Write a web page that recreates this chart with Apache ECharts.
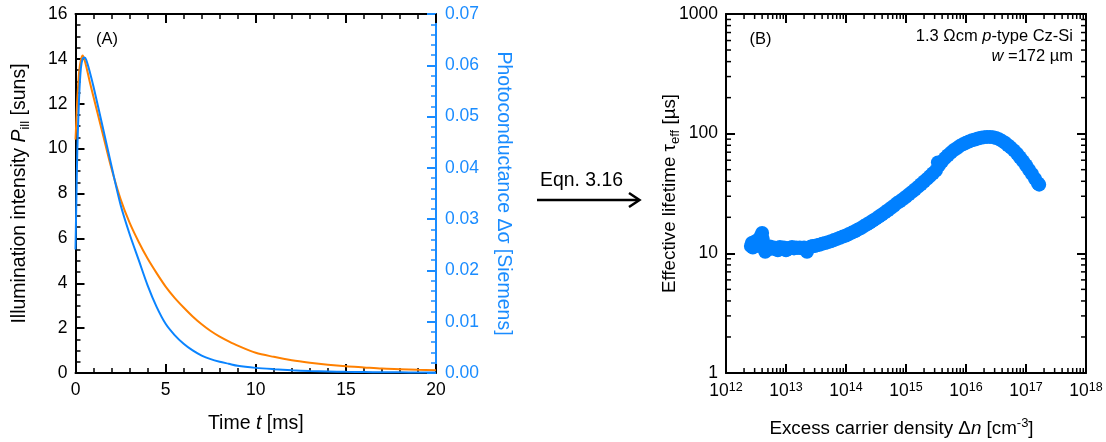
<!DOCTYPE html>
<html><head><meta charset="utf-8">
<script src="https://cdn.jsdelivr.net/npm/echarts@6/dist/echarts.min.js"></script>
<style>html,body{margin:0;padding:0;background:#fff}#c{width:1106px;height:442px}</style>
</head><body><div id="c"></div>
<script>
// ---- Panel A data ----
const timeMs = [0, 0.05, 0.1, 0.2, 0.3, 0.4, 0.5, 0.6, 0.8, 1.0, 1.5, 2.0, 2.5, 3.0, 3.5, 4.0, 4.5, 5.0, 5.5, 6.0, 6.5, 7.0, 7.5, 8.0, 8.5, 9.0, 10, 11, 12, 13, 14, 15, 16, 17, 18, 19, 20];
const illuminationSuns = [10.4, 11.3, 12.2, 13.4, 13.95, 14.15, 13.95, 13.65, 12.95, 12.3, 10.7, 9.1, 7.75, 6.7, 5.85, 5.1, 4.45, 3.85, 3.35, 2.92, 2.52, 2.17, 1.87, 1.62, 1.41, 1.22, 0.9, 0.72, 0.57, 0.46, 0.37, 0.3, 0.25, 0.2, 0.17, 0.14, 0.12];
const photoconductanceS = [0.0241, 0.0341, 0.0433, 0.0538, 0.0595, 0.0613, 0.0615, 0.0610, 0.0586, 0.0558, 0.0481, 0.0403, 0.0328, 0.0271, 0.0221, 0.0171, 0.0129, 0.0096, 0.0074, 0.0057, 0.0044, 0.0034, 0.0027, 0.0022, 0.0018, 0.0014, 0.0010, 0.00074, 0.00053, 0.00039, 0.00031, 0.00022, 0.00018, 0.00015, 0.00013, 0.00011, 0.00009];

// ---- Panel B data ----
const carrierDensity = [2.6e12, 2.7e12, 2.8e12, 3.0e12, 3.2e12, 3.4e12, 3.6e12, 3.8e12, 4.0e12, 4.1e12, 4.3e12, 4.5e12, 4.8e12, 5.0e12, 5.4e12, 5.8e12, 6.3e12, 6.8e12, 7.3e12, 7.9e12, 8.5e12, 9.2e12,
  1.0e13, 1.08e13, 1.17e13, 1.26e13, 1.36e13, 1.47e13, 1.58e13, 1.7e13, 1.85e13, 2.0e13, 2.24e13, 2.4e13, 2.6e13, 2.82e13, 3.0e13, 3.3e13, 3.6e13, 4.0e13, 4.5e13, 5.0e13, 5.6e13, 6.3e13, 7.1e13, 7.9e13, 8.9e13,
  1.0e14, 1.12e14, 1.26e14, 1.41e14, 1.58e14, 1.78e14, 2.0e14, 2.24e14, 2.51e14, 2.82e14, 3.16e14, 3.55e14, 3.98e14, 4.47e14, 5.0e14, 5.6e14, 6.3e14, 7.1e14, 7.9e14, 8.9e14,
  1.0e15, 1.12e15, 1.26e15, 1.41e15, 1.58e15, 1.78e15, 2.0e15, 2.24e15, 2.51e15, 2.82e15, 3.16e15, 3.4e15, 3.55e15, 3.98e15, 4.47e15, 5.0e15, 5.6e15, 6.3e15, 7.1e15, 7.9e15, 8.9e15,
  1.0e16, 1.12e16, 1.26e16, 1.41e16, 1.58e16, 1.78e16, 2.0e16, 2.24e16, 2.51e16, 2.82e16, 3.16e16, 3.55e16, 3.98e16, 4.47e16, 5.0e16, 5.6e16, 6.3e16, 7.1e16, 7.9e16, 8.9e16,
  1.0e17, 1.12e17, 1.26e17, 1.41e17, 1.58e17, 1.66e17];
const lifetimeUs = [11.5, 12.2, 11.2, 12.5, 12.0, 13.0, 11.5, 14.0, 14.8, 13.2, 11.8, 10.3, 11.2, 10.8, 11.4, 10.9, 11.2, 11.0, 10.6, 11.3, 11.0, 11.2,
  10.6, 11.1, 11.0, 11.3, 11.0, 11.2, 11.1, 11.2, 11.0, 11.2, 10.3, 11.1, 11.4, 11.5, 11.5, 11.7, 11.8, 12.0, 12.2, 12.4, 12.6, 12.9, 13.2, 13.5, 13.8,
  14.1, 14.5, 14.9, 15.3, 15.8, 16.3, 16.9, 17.5, 18.1, 18.8, 19.5, 20.3, 21.1, 22.0, 22.9, 23.9, 25.0, 26.3, 27.2, 28.4,
  29.7, 31.1, 32.6, 34.2, 35.9, 37.8, 39.8, 41.9, 44.2, 46.7, 49.3, 57.5, 54.5, 58.5, 62.5, 66.0, 69.5, 73.0, 76.0, 79.0, 81.5,
  84.0, 86.0, 88.0, 89.5, 91.0, 92.5, 93.5, 94.0, 94.0, 93.5, 92.0, 90.0, 87.0, 84.0, 80.0, 76.5, 72.5, 68.0, 63.5, 59.0,
  54.5, 50.0, 46.0, 42.0, 38.5, 37.5];

// tick helpers (log minor tick mantissas)
const logMinorMantissas = [2, 3, 4, 5, 6, 7, 8, 9];
const xDecades = [12, 13, 14, 15, 16, 17];
const yDecades = [0, 1, 2];

const FONT = '"Liberation Sans", Arial, sans-serif';
const BLUE_AX = '#1a8cff';
const BLUE = '#0a84ff';
const ORANGE = '#ff8000';
const TICK_FS = 17.5;
const NAME_A = 19.5;
const NAME_B = 18.8;

const xMinor = [];
xDecades.forEach(e => logMinorMantissas.forEach(m => xMinor.push([m * Math.pow(10, e), 1])));
const yMinor = [];
yDecades.forEach(e => logMinorMantissas.forEach(m => yMinor.push([1e12, m * Math.pow(10, e)])));

const chart = echarts.init(document.getElementById('c'), null, {renderer: 'canvas'});

const baseTick = {show: true, inside: true, length: 9, lineStyle: {color: '#000', width: 2}};
const baseMinor = {show: true, length: 5, lineStyle: {color: '#000', width: 1.5}};
const blackLine = {show: true, onZero: false, lineStyle: {color: '#000', width: 2}};
const lbl = {color: '#000', fontSize: TICK_FS, fontFamily: FONT, margin: 8};
function richFor(fs) {
  const lh = Math.round(fs * 1.25);
  return {
    n: {fontSize: fs, fontFamily: FONT, lineHeight: lh},
    i: {fontSize: fs, fontFamily: FONT, fontStyle: 'italic', lineHeight: lh},
    sub: {fontSize: Math.round(fs * 0.68), fontFamily: FONT, verticalAlign: 'bottom'},
    sup: {fontSize: Math.round(fs * 0.68), fontFamily: FONT, verticalAlign: 'top'}
  };
}

const option = {
  animation: false,
  backgroundColor: '#fff',
  textStyle: {fontFamily: FONT},
  grid: [
    {left: 75.5, right: 670, top: 14, bottom: 69, containLabel: false, outerBoundsMode: 'none'},
    {left: 726, right: 20, top: 14, bottom: 69, containLabel: false, outerBoundsMode: 'none'}
  ],
  xAxis: [
    {gridIndex: 0, type: 'value', min: 0, max: 20, interval: 5, position: 'bottom',
      axisLine: blackLine, axisTick: baseTick, minorTick: Object.assign({splitNumber: 5}, baseMinor),
      splitLine: {show: false}, axisLabel: lbl,
      name: '{n|Time }{i|t}{n| [ms]}', nameLocation: 'middle', nameGap: 39, nameMoveOverlap: false,
      nameTextStyle: {color: '#000', fontSize: NAME_A, rich: richFor(NAME_A)}},
    {gridIndex: 0, type: 'value', min: 0, max: 20, interval: 5, position: 'top',
      axisLine: blackLine, axisTick: baseTick, minorTick: Object.assign({splitNumber: 5}, baseMinor),
      splitLine: {show: false}, axisLabel: {show: false}},
    {gridIndex: 1, type: 'log', logBase: 10, min: 1e12, max: 1e18, splitNumber: 6, position: 'bottom',
      axisLine: blackLine, axisTick: baseTick, splitLine: {show: false},
      axisLabel: Object.assign({}, lbl, {
        showMinLabel: true, showMaxLabel: true, hideOverlap: false,
        formatter: v => '{b|10}{s|' + Math.round(Math.log10(v)) + '}',
        rich: {b: {fontSize: TICK_FS, fontFamily: FONT, lineHeight: 21, color: '#000'},
               s: {fontSize: 12.5, fontFamily: FONT, verticalAlign: 'top', color: '#000'}}
      }),
      name: '{n|Excess carrier density Δ}{i|n}{n| [cm}{sup|-3}{n|]}', nameLocation: 'middle', nameGap: 44, nameMoveOverlap: false,
      nameTextStyle: {color: '#000', fontSize: NAME_B, padding: [0, 9, 0, 0], rich: richFor(NAME_B)}},
    {gridIndex: 1, type: 'log', logBase: 10, min: 1e12, max: 1e18, splitNumber: 6, position: 'top',
      axisLine: blackLine, axisTick: baseTick, splitLine: {show: false}, axisLabel: {show: false}}
  ],
  yAxis: [
    {gridIndex: 0, type: 'value', min: 0, max: 16, interval: 2, position: 'left',
      axisLine: blackLine, axisTick: baseTick, minorTick: Object.assign({splitNumber: 4}, baseMinor),
      splitLine: {show: false}, axisLabel: lbl,
      name: '{n|Illumination intensity }{i|P}{sub|ill}{n| [suns]}', nameLocation: 'middle', nameGap: 44, nameMoveOverlap: false,
      nameTextStyle: {color: '#000', fontSize: NAME_A, rich: richFor(NAME_A)}},
    {gridIndex: 0, type: 'value', min: 0, max: 0.07, interval: 0.01, position: 'right',
      axisLine: {show: true, onZero: false, lineStyle: {color: BLUE_AX, width: 2}},
      axisTick: {show: true, inside: true, length: 9, lineStyle: {color: BLUE_AX, width: 2}},
      minorTick: {show: true, splitNumber: 5, length: 5, lineStyle: {color: BLUE_AX, width: 1.5}},
      splitLine: {show: false},
      axisLabel: {color: BLUE_AX, fontSize: TICK_FS, fontFamily: FONT, margin: 9, formatter: v => v.toFixed(2)},
      name: 'Photoconductance Δσ [Siemens]', nameLocation: 'middle', nameGap: 57, nameRotate: -90, nameMoveOverlap: false,
      nameTextStyle: {color: BLUE_AX, fontSize: NAME_A, fontFamily: FONT}},
    {gridIndex: 1, type: 'log', logBase: 10, min: 1, max: 1000, splitNumber: 3, position: 'left',
      axisLine: blackLine, axisTick: baseTick, splitLine: {show: false},
      axisLabel: Object.assign({}, lbl, {showMinLabel: true, showMaxLabel: true, formatter: v => String(Math.round(v))}),
      name: '{n|Effective lifetime τ}{sub|eff}{n| [µs]}', nameLocation: 'middle', nameGap: 44, nameMoveOverlap: false,
      nameTextStyle: {color: '#000', fontSize: NAME_B, rich: richFor(NAME_B)}},
    {gridIndex: 1, type: 'log', logBase: 10, min: 1, max: 1000, splitNumber: 3, position: 'right',
      axisLine: blackLine, axisTick: baseTick, splitLine: {show: false}, axisLabel: {show: false}}
  ],
  series: [
    {type: 'line', xAxisIndex: 0, yAxisIndex: 0, data: timeMs.map((t, i) => [t, illuminationSuns[i]]),
      showSymbol: false, smooth: 0.3, lineStyle: {color: ORANGE, width: 2}, itemStyle: {color: ORANGE}, z: 3},
    {type: 'line', xAxisIndex: 0, yAxisIndex: 1, data: timeMs.map((t, i) => [t, photoconductanceS[i]]),
      showSymbol: false, smooth: 0.3, lineStyle: {color: BLUE, width: 2}, itemStyle: {color: BLUE}, z: 4},
    {type: 'scatter', xAxisIndex: 2, yAxisIndex: 2, data: carrierDensity.map((x, i) => [x, lifetimeUs[i]]),
      symbol: 'circle', symbolSize: 14, itemStyle: {color: '#0080ff', opacity: 1}, z: 3},
    {type: 'custom', xAxisIndex: 2, yAxisIndex: 2, silent: true, clip: false, data: xMinor, z: 10,
      renderItem: (params, api) => {
        const v = api.value(0);
        const b = api.coord([v, 1]), t = api.coord([v, 1000]);
        return {type: 'group', children: [
          {type: 'line', shape: {x1: b[0], y1: b[1], x2: b[0], y2: b[1] - 5}, style: {stroke: '#000', lineWidth: 1.5}},
          {type: 'line', shape: {x1: t[0], y1: t[1], x2: t[0], y2: t[1] + 5}, style: {stroke: '#000', lineWidth: 1.5}}
        ]};
      }},
    {type: 'custom', xAxisIndex: 2, yAxisIndex: 2, silent: true, clip: false, data: yMinor, z: 10,
      renderItem: (params, api) => {
        const v = api.value(1);
        const l = api.coord([1e12, v]), r = api.coord([1e18, v]);
        return {type: 'group', children: [
          {type: 'line', shape: {x1: l[0], y1: l[1], x2: l[0] + 5, y2: l[1]}, style: {stroke: '#000', lineWidth: 1.5}},
          {type: 'line', shape: {x1: r[0], y1: r[1], x2: r[0] - 5, y2: r[1]}, style: {stroke: '#000', lineWidth: 1.5}}
        ]};
      }}
  ],
  graphic: [
    {type: 'text', x: 107, y: 39, style: {text: '(A)', fontSize: 16.5, fontFamily: FONT, fill: '#000', align: 'center', verticalAlign: 'middle'}},
    {type: 'text', x: 760.5, y: 39.5, style: {text: '(B)', fontSize: 16.5, fontFamily: FONT, fill: '#000', align: 'center', verticalAlign: 'middle'}},
    {type: 'text', x: 1073, y: 36, style: {text: '{n|1.3 Ωcm }{i|p}{n|-type Cz-Si}', fill: '#000', align: 'right', verticalAlign: 'middle',
      rich: {n: {fontSize: 16.5, fontFamily: FONT, fill: '#000'}, i: {fontSize: 16.5, fontFamily: FONT, fontStyle: 'italic', fill: '#000'}}}},
    {type: 'text', x: 1073, y: 56.5, style: {text: '{i|w}{n| =172 µm}', fill: '#000', align: 'right', verticalAlign: 'middle',
      rich: {n: {fontSize: 16.5, fontFamily: FONT, fill: '#000'}, i: {fontSize: 16.5, fontFamily: FONT, fontStyle: 'italic', fill: '#000'}}}},
    {type: 'text', x: 581.5, y: 181, style: {text: 'Eqn. 3.16', fontSize: 19.4, fontFamily: FONT, fill: '#000', align: 'center', verticalAlign: 'middle'}},
    {type: 'line', shape: {x1: 537, y1: 200, x2: 639, y2: 200}, style: {stroke: '#000', lineWidth: 2.5}},
    {type: 'polyline', shape: {points: [[629, 193], [639.5, 200], [629, 207]]}, style: {stroke: '#000', lineWidth: 2.5, fill: null}}
  ]
};
chart.setOption(option);
</script>
</body></html>
